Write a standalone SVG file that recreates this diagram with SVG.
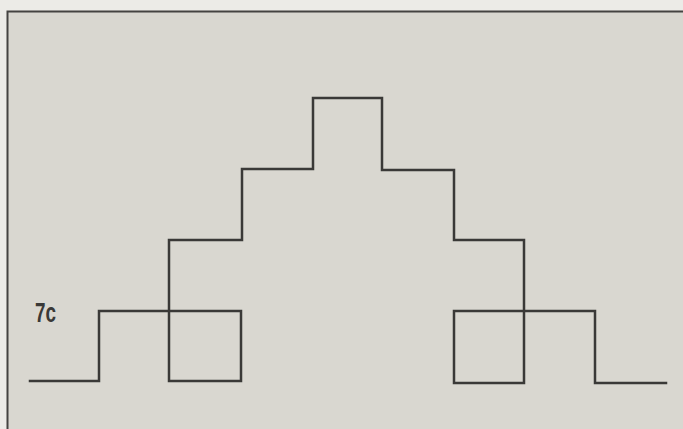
<svg xmlns="http://www.w3.org/2000/svg" width="683" height="429" viewBox="0 0 683 429">
<style>
.ln{fill:none;stroke:#3a3937;stroke-width:2.5;stroke-linejoin:miter;stroke-linecap:square}
.frame{fill:none;stroke:#444341;stroke-width:2}
.lbl{font-family:"Liberation Sans",Arial,sans-serif;font-weight:bold;font-size:28px;fill:#3a3937}
</style>
<rect x="0" y="0" width="683" height="429" fill="#ecebe7"/>
<rect x="7.5" y="11.5" width="680" height="420" fill="#d9d7d0"/>
<path class="frame" d="M7.5 431 V11.5 H684"/>
<g id="label"><text class="lbl" x="35" y="322" textLength="21" lengthAdjust="spacingAndGlyphs">7c</text></g>
<g id="connectors">
<path class="ln" d="M30 381 H99 V311 H241 V381 H169 V240 H242 V169 H313 V98 H382 V170 H454 V240 H524 V383 H454 V311 H595 V383 H666"/>
</g>
</svg>
